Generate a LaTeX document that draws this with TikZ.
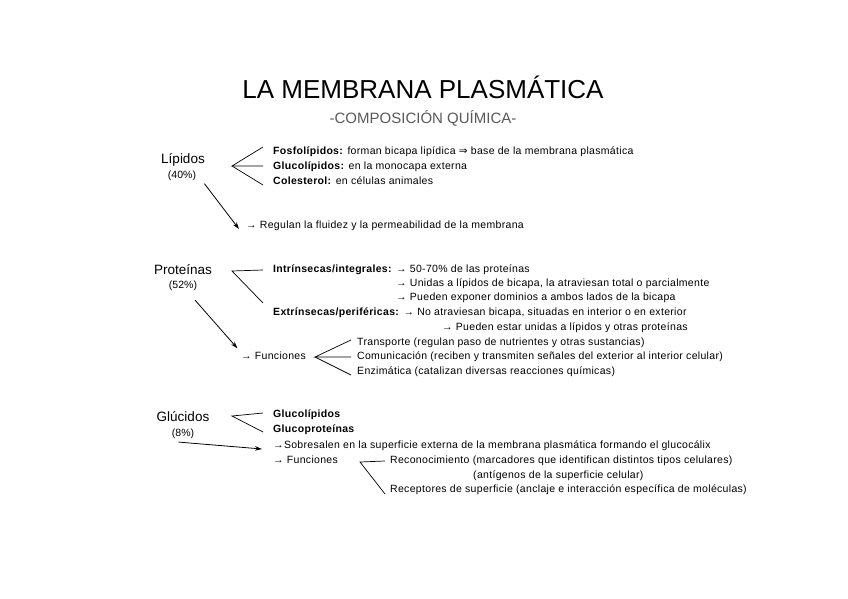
\documentclass[tikz,border=0pt]{standalone}
\usepackage{fontspec}
\setmainfont{Liberation Sans}
\newfontfamily\symfont{DejaVu Sans}
\usetikzlibrary{arrows.meta}
\begin{document}
\begin{tikzpicture}[x=1pt, y=-1pt,
  txt/.style={anchor=west, inner sep=1pt, font=\fontsize{10.5}{12}\selectfont\addfontfeature{LetterSpace=3}, text height=7pt, text depth=2pt},
  group/.style={inner sep=1pt, font=\fontsize{13.5}{15}\selectfont},
  pct/.style={inner sep=1pt, font=\fontsize{10.5}{12}\selectfont},
  fan/.style={line width=0.7pt},
  arr/.style={line width=0.8pt, -{Stealth[length=7pt, width=4.5pt]}}]
  \useasboundingbox (0,0) rectangle (848,599);
  % Title
  \node[font=\fontsize{26}{30}\selectfont] (title) at (423,87) {LA MEMBRANA PLASMÁTICA};
  \node[font=\fontsize{15}{17}\selectfont, text=black!65] (subtitle) at (423,118) {-COMPOSICIÓN QUÍMICA-};
  % Lipidos
  \node[group] (lip) at (183,160) {Lípidos};
  \node[pct] (lippct) at (182,176) {(40\%)};
  \node[txt] (fos) at (272,152) {\textbf{Fosfolípidos:} forman bicapa lipídica {\symfont ⇒} base de la membrana plasmática};
  \node[txt] (glip) at (272,167) {\textbf{Glucolípidos:} en la monocapa externa};
  \node[txt] (col) at (272,182) {\textbf{Colesterol:} en células animales};
  \node[txt] (reg) at (245,226) {→ Regulan la fluidez y la permeabilidad de la membrana};
  \coordinate (lipfan) at (232,166);
  \draw[fan] ([xshift=-9pt, yshift=5pt]fos.west) -- (lipfan) -- ([xshift=-9pt, yshift=1pt]glip.west);
  \draw[fan] (lipfan) -- ([xshift=-9pt, yshift=-3pt]col.west);
  \draw[arr, shorten <=2pt] ([xshift=6pt]lippct.south east) -- ([xshift=-6pt, yshift=-3pt]reg.west);
  % Proteinas
  \node[group] (prot) at (183,270) {Proteínas};
  \node[pct] (protpct) at (183,286) {(52\%)};
  \node[txt] (intr) at (272,270) {\textbf{Intrínsecas/integrales:} → 50-70\% de las proteínas};
  \node[txt] (unid) at (395,284) {→ Unidas a lípidos de bicapa, la atraviesan total o parcialmente};
  \node[txt] (expo) at (395,298) {→ Pueden exponer dominios a ambos lados de la bicapa};
  \node[txt] (extr) at (272,313) {\textbf{Extrínsecas/periféricas:} → No atraviesan bicapa, situadas en interior o en exterior};
  \node[txt] (esta) at (441,328) {→ Pueden estar unidas a lípidos y otras proteínas};
  \node[txt] (pfunc) at (240,357) {→ Funciones};
  \node[txt] (trans) at (356,343) {Transporte (regulan paso de nutrientes y otras sustancias)};
  \node[txt] (comu) at (356,357) {Comunicación (reciben y transmiten señales del exterior al interior celular)};
  \node[txt] (enzi) at (356,372) {Enzimática (catalizan diversas reacciones químicas)};
  \coordinate (protfan) at (232,271);
  \draw[fan] ([xshift=-9pt]intr.west) -- (protfan) -- ([xshift=-9pt, yshift=10pt]extr.west);
  \coordinate (pfuncfan) at (315,357);
  \draw[fan] ([xshift=-5pt, yshift=3pt]trans.west) -- (pfuncfan) -- ([xshift=-5pt]comu.west);
  \draw[fan] (pfuncfan) -- ([xshift=-5pt, yshift=-3pt]enzi.west);
  \draw[arr, shorten >=4pt] ([xshift=12pt, yshift=-8pt]protpct.south) -- (pfunc.north west);
  % Glucidos
  \node[group] (glu) at (183,417) {Glúcidos};
  \node[pct] (glupct) at (183,434) {(8\%)};
  \node[txt] (gclip) at (272,415) {\textbf{Glucolípidos}};
  \node[txt] (gcprot) at (272,430) {\textbf{Glucoproteínas}};
  \node[txt] (sobre) at (272,446) {→Sobresalen en la superficie externa de la membrana plasmática formando el glucocálix};
  \node[txt] (gfunc) at (272,461) {→ Funciones};
  \node[txt] (reco) at (389,461) {Reconocimiento (marcadores que identifican distintos tipos celulares)};
  \node[txt] (anti) at (472,476) {(antígenos de la superficie celular)};
  \node[txt] (rece) at (389,490) {Receptores de superficie (anclaje e interacción específica de moléculas)};
  \coordinate (glufan) at (232,416);
  \draw[fan] ([xshift=-9pt, yshift=2pt]gclip.west) -- (glufan) -- ([xshift=-9pt, yshift=-2pt]gcprot.west);
  \coordinate (gfuncfan) at (360,462);
  \draw[fan] ([xshift=-4pt]reco.west) -- (gfuncfan) -- ([xshift=-4pt, yshift=-4pt]rece.west);
  \draw[arr] ([xshift=8pt, yshift=-2pt]glupct.south west) -- ([xshift=-10pt, yshift=-3pt]sobre.west);
\end{tikzpicture}
\end{document}
